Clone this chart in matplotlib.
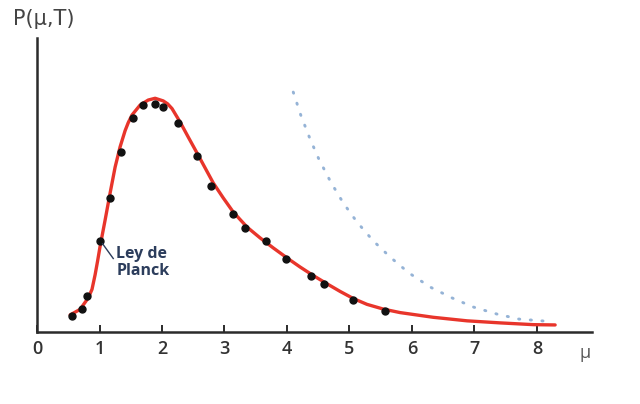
import matplotlib
matplotlib.use("Agg")
import matplotlib.pyplot as plt

# red curve: Planck law
planck_x = [0.53, 0.69, 0.82, 0.88, 0.93, 0.97, 1.01, 1.09, 1.17, 1.25, 1.33, 1.41, 1.46,
            1.52, 1.65, 1.78, 1.89, 2.02, 2.09, 2.16, 2.29, 2.42, 2.56, 2.69, 2.82, 2.98,
            3.14, 3.36, 3.57, 3.78, 4.00, 4.21, 4.42, 4.64, 4.85, 5.06, 5.28, 5.54, 5.81,
            6.34, 6.88, 7.41, 7.94, 8.29]
planck_y = [0.58, 0.77, 1.16, 1.45, 1.95, 2.42, 2.92, 3.81, 4.73, 5.61, 6.30, 6.85, 7.12,
            7.38, 7.72, 7.89, 7.95, 7.86, 7.76, 7.60, 7.14, 6.63, 6.09, 5.58, 5.07, 4.56,
            4.08, 3.57, 3.20, 2.86, 2.52, 2.21, 1.92, 1.64, 1.38, 1.14, 0.94, 0.78, 0.66,
            0.50, 0.38, 0.31, 0.25, 0.24]

# black dots: measurements
data_x = [0.56, 0.72, 0.80, 1.01, 1.17, 1.34, 1.54, 1.70, 1.89, 2.02, 2.26, 2.56, 2.78,
          3.14, 3.33, 3.66, 3.98, 4.38, 4.59, 5.06, 5.57]
data_y = [0.54, 0.78, 1.22, 3.10, 4.56, 6.12, 7.28, 7.72, 7.76, 7.65, 7.11, 5.99, 4.97,
          4.01, 3.54, 3.10, 2.48, 1.90, 1.63, 1.09, 0.71]

# blue dotted: classical curve
classic_x = [4.10, 4.22, 4.37, 4.51, 4.70, 4.90, 5.12, 5.38, 5.65, 5.95, 6.29, 6.64,
             6.98, 7.36, 7.71, 8.13]
classic_y = [8.16, 7.38, 6.56, 5.88, 5.10, 4.39, 3.74, 3.10, 2.55, 2.01, 1.53, 1.16,
             0.85, 0.61, 0.44, 0.37]

x_ticks = [0, 1, 2, 3, 4, 5, 6, 7, 8]

INK = "#2b2b2b"
RED = "#e8352b"
BLUE = "#95b3d6"
NAVY = "#2c3d5c"
FONT = ["Open Sans", "DejaVu Sans"]

fig = plt.figure(figsize=(6.4, 4.04), dpi=100)
fig.patch.set_facecolor("white")
ax = fig.add_axes([37 / 640, 72 / 404, 555 / 640, 294 / 404])

ax.plot(classic_x, classic_y, color=BLUE, linewidth=2.1,
        linestyle=(0, (0.4, 3.6)), dash_capstyle="round")
ax.plot(planck_x, planck_y, color=RED, linewidth=2.4, solid_joinstyle="round",
        solid_capstyle="round", zorder=3)
ax.plot(data_x, data_y, "o", color="#111111", markersize=5, zorder=4)

# leader line + label
ax.plot([1.05, 1.22], [3.0, 2.5], color=NAVY, linewidth=1.0, zorder=5)
ax.text(1.27, 2.92, "Ley de\nPlanck", color=NAVY, fontsize=11.5, fontweight="bold",
        family=FONT, ha="left", va="top", linespacing=1.1)

ax.set_xlim(0, 8.88)
ax.set_ylim(0, 10)
for side in ("top", "right"):
    ax.spines[side].set_visible(False)
for side in ("left", "bottom"):
    ax.spines[side].set_linewidth(1.8)
    ax.spines[side].set_color(INK)

ax.set_xticks(x_ticks)
ax.set_xticklabels([str(t) for t in x_ticks], family=FONT, fontsize=13,
                   fontweight="semibold", color="#333333")
ax.tick_params(axis="x", direction="in", length=5, width=1.4, color=INK, pad=6)
ax.set_yticks([])

fig.text(585 / 640, 1 - 353 / 404, "μ", family=FONT, fontsize=13, color="#555555",
         ha="center", va="center")
fig.text(13 / 640, 1 - 19 / 404, "P(μ,T)", family=["DejaVu Sans"], fontsize=15,
         color="#444444", ha="left", va="center")

fig.savefig("out.png", dpi=100, facecolor="white")
